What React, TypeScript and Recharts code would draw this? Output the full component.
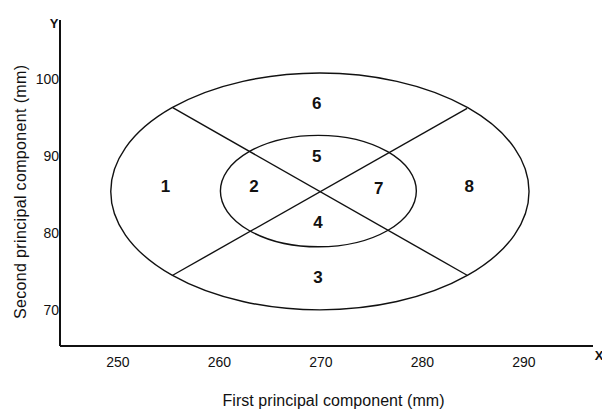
import { ScatterChart, Scatter, XAxis, YAxis, ReferenceArea, ReferenceLine, Customized } from 'recharts';

// Werte (mm)
const xTicks = [250, 260, 270, 280, 290];
const yTicks = [70, 80, 90, 100];
const xDomain: [number, number] = [244.3, 296.8];
const yDomain: [number, number] = [65.3, 107.7];

// Ellipsen als Begrenzungsrechteck [x1, x2, y1, y2]
const outerBox = [249.3, 290.5, 70.0, 100.8];
const innerBox = [260.1, 279.4, 78.2, 92.7];

// Diagonalen
const diagA = [{ x: 255.4, y: 96.3 }, { x: 284.4, y: 74.5 }];
const diagB = [{ x: 255.4, y: 74.5 }, { x: 284.4, y: 96.2 }];

// Bereichsnummern
const regions = [
  { name: '1', x: 254.7, y: 86.0 },
  { name: '2', x: 263.4, y: 86.0 },
  { name: '3', x: 269.7, y: 74.2 },
  { name: '4', x: 269.7, y: 81.3 },
  { name: '5', x: 269.6, y: 89.9 },
  { name: '6', x: 269.6, y: 96.8 },
  { name: '7', x: 275.7, y: 85.8 },
  { name: '8', x: 284.6, y: 86.0 },
];

const FONT = '"Liberation Sans", Arial, sans-serif';

const ellipseShape = (p: any) => (
  <ellipse
    cx={p.x + p.width / 2}
    cy={p.y + p.height / 2}
    rx={Math.abs(p.width) / 2}
    ry={Math.abs(p.height) / 2}
    fill="none"
    stroke="#111"
    strokeWidth={1.4}
  />
);

const regionLabel = (p: any) => (
  <text x={p.cx} y={p.cy} textAnchor="middle" dominantBaseline="central" fontFamily={FONT} fontWeight="bold" fontSize={17} fill="#111">
    {p.payload.name}
  </text>
);

const Extras = () => (
  <g fontFamily={FONT} fill="#111">
    <text x={54} y={23} textAnchor="middle" dominantBaseline="central" fontSize={13} fontWeight="bold">Y</text>
    <text x={599} y={355} textAnchor="middle" dominantBaseline="central" fontSize={13} fontWeight="bold">X</text>
    <text x={333.5} y={400} textAnchor="middle" dominantBaseline="central" fontSize={16} textLength={222} lengthAdjust="spacing">
      First principal component (mm)
    </text>
    <text x={20} y={192} textAnchor="middle" dominantBaseline="central" fontSize={16} textLength={254} lengthAdjust="spacing" transform="rotate(-90 20 192)">
      Second principal component (mm)
    </text>
  </g>
);

export default function App() {
  return (
    <div style={{ position: 'absolute', left: 0, top: 0, width: 602, height: 409, background: '#fff' }}>
      <ScatterChart width={602} height={409} margin={{ top: 20, right: 9, left: 0, bottom: 0 }}>
        <XAxis
          type="number" dataKey="x" domain={xDomain} ticks={xTicks} allowDataOverflow
          tickLine={false} tickSize={0} tickMargin={11} height={63}
          axisLine={{ stroke: '#111', strokeWidth: 2 }}
          tick={{ fill: '#111', fontSize: 14, fontFamily: FONT }}
        />
        <YAxis
          type="number" dataKey="y" domain={yDomain} ticks={yTicks} allowDataOverflow
          tickLine={false} tickSize={0} tickMargin={1} width={60}
          axisLine={{ stroke: '#111', strokeWidth: 2 }}
          tick={{ fill: '#111', fontSize: 14, fontFamily: FONT }}
        />
        <ReferenceArea x1={outerBox[0]} x2={outerBox[1]} y1={outerBox[2]} y2={outerBox[3]} shape={ellipseShape} />
        <ReferenceArea x1={innerBox[0]} x2={innerBox[1]} y1={innerBox[2]} y2={innerBox[3]} shape={ellipseShape} />
        <ReferenceLine segment={diagA} stroke="#111" strokeWidth={1.4} />
        <ReferenceLine segment={diagB} stroke="#111" strokeWidth={1.4} />
        <Scatter data={regions} shape={regionLabel} isAnimationActive={false} />
        <Customized component={Extras} />
      </ScatterChart>
    </div>
  );
}
